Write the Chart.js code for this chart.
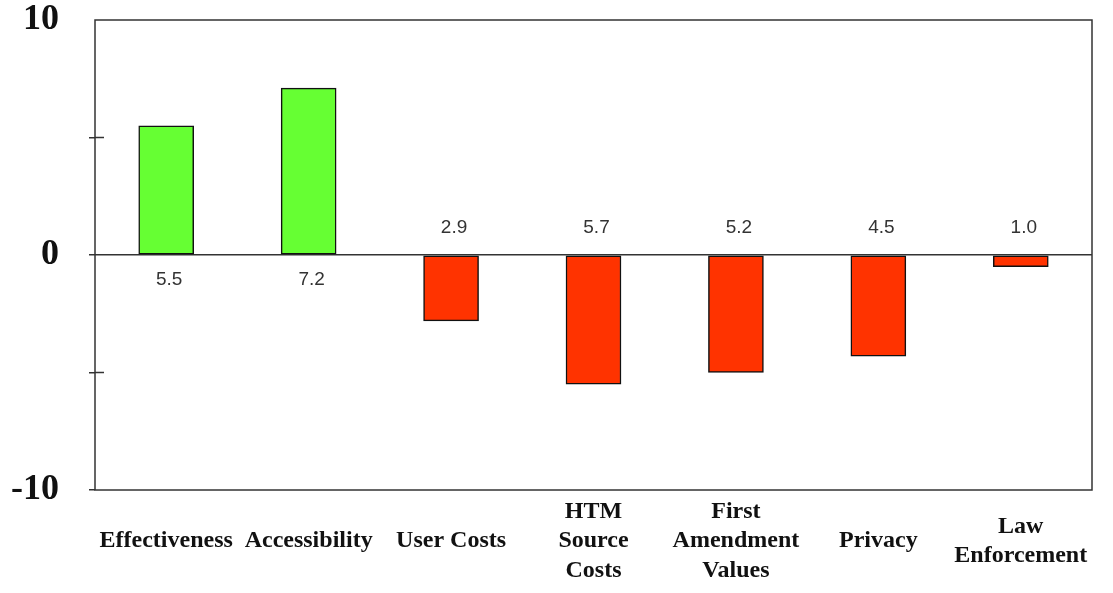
<!DOCTYPE html>
<html>
<head>
<meta charset="utf-8">
<script src="https://cdn.jsdelivr.net/npm/chart.js@4"></script>
<style>
  html, body { margin: 0; padding: 0; background: #fff; }
  #wrap { width: 1113px; height: 593px; }
</style>
</head>
<body>
<div id="wrap"><canvas id="impactChart" width="1113" height="593"></canvas></div>
<script>
// categories and values
const categories = [
    'Effectiveness',
    'Accessibility',
    'User Costs',
    ['HTM', 'Source', 'Costs'],
    ['First', 'Amendment', 'Values'],
    'Privacy',
    ['Law', 'Enforcement']
];
const barValues = [5.5, 7.1, -2.8, -5.5, -5.0, -4.3, -0.5];
const valueLabels = ['5.5', '7.2', '2.9', '5.7', '5.2', '4.5', '1.0'];
const yTickLabels = { '10': '10', '0': '0', '-10': '-10' };

const posColor = '#66ff33';
const negColor = '#ff3300';

// frame around the plot plus the numbers next to each bar
const framePlugin = {
    id: 'frame',
    afterDatasetsDraw(chart) {
        const ctx = chart.ctx;
        const a = chart.chartArea;
        const y = chart.scales.y;
        ctx.save();
        ctx.strokeStyle = '#333';
        ctx.lineWidth = 1.5;
        ctx.strokeRect(a.left, a.top, a.right - a.left, a.bottom - a.top);
        // small ticks poking into the plot
        [5, -5].forEach(v => {
            const py = y.getPixelForValue(v);
            ctx.beginPath();
            ctx.moveTo(a.left, py);
            ctx.lineTo(a.left + 9, py);
            ctx.stroke();
        });
        // value labels
        const zero = y.getPixelForValue(0);
        ctx.font = '19px "Liberation Sans", Arial, sans-serif';
        ctx.fillStyle = '#333';
        ctx.textAlign = 'center';
        ctx.textBaseline = 'middle';
        chart.getDatasetMeta(0).data.forEach((bar, i) => {
            const ty = barValues[i] >= 0 ? zero + 25 : zero - 27;
            ctx.fillText(valueLabels[i], bar.x + 3, ty);
        });
        ctx.restore();
    }
};

const ctx = document.getElementById('impactChart').getContext('2d');
window.impactChart = new Chart(ctx, {
    type: 'bar',
    data: {
        labels: categories,
        datasets: [{
            data: barValues,
            backgroundColor: barValues.map(v => v >= 0 ? posColor : negColor),
            borderColor: '#111',
            borderWidth: 1.5,
            borderSkipped: false,
            barThickness: 55
        }]
    },
    options: {
        responsive: false,
        maintainAspectRatio: false,
        animation: false,
        layout: {
            padding: { left: 6, right: 21, top: 20, bottom: 0 }
        },
        plugins: {
            legend: { display: false },
            tooltip: { enabled: false }
        },
        scales: {
            x: {
                grid: { display: false },
                border: { display: false },
                afterFit: scale => { scale.height = 103; scale.paddingLeft = 0; scale.paddingRight = 0; },
                ticks: {
                    color: '#111',
                    padding: 14,
                    maxRotation: 0,
                    autoSkip: false,
                    crossAlign: 'center',
                    font: { family: '"Liberation Serif", "Times New Roman", serif', size: 24, weight: 'bold', lineHeight: 1.22 }
                }
            },
            y: {
                min: -10,
                max: 10,
                afterFit: scale => { scale.width = 89; scale.paddingTop = 0; scale.paddingBottom = 0; },
                grid: {
                    drawTicks: true,
                    tickLength: 6,
                    tickColor: ctx2 => ctx2.tick.value === 10 ? 'rgba(0,0,0,0)' : '#333',
                    color: ctx2 => ctx2.tick.value === 0 ? '#333' : 'rgba(0,0,0,0)',
                    lineWidth: 1.5
                },
                border: { display: false },
                ticks: {
                    stepSize: 5,
                    padding: 30,
                    color: '#111',
                    font: { family: '"Liberation Serif", "Times New Roman", serif', size: 36, weight: 'bold' },
                    callback: function (value) {
                        return yTickLabels[String(value)] || '';
                    }
                }
            }
        }
    },
    plugins: [framePlugin]
});
</script>
</body>
</html>
